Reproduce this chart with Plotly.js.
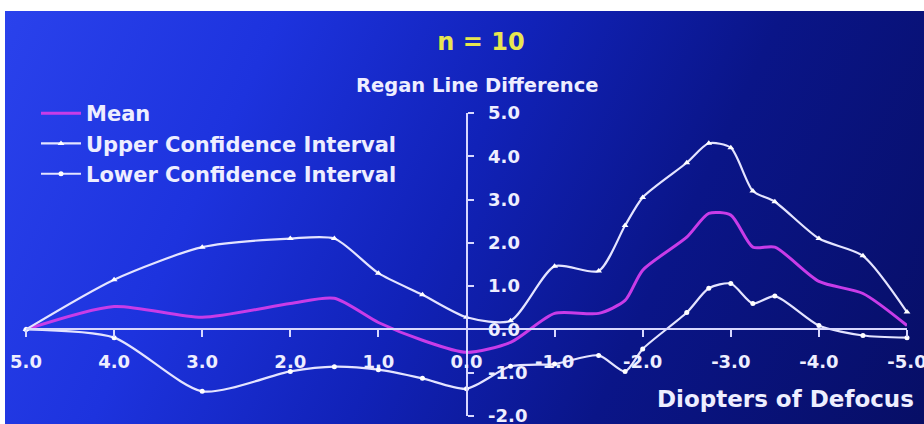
<!DOCTYPE html>
<html>
<head>
<meta charset="utf-8">
<script src="https://cdn.plot.ly/plotly-3.0.1.min.js"></script>
<style>
  html, body { margin:0; padding:0; background:#ffffff; }
  #wrap { position:relative; width:924px; height:424px; background:#ffffff; overflow:hidden; }
  #bg { position:absolute; left:5px; top:11px; width:919px; height:413px;
        background: linear-gradient(115deg, #2a42ec 0%, #1d33de 25%, #1122b8 48%, #0a1588 70%, #070e66 100%); }
  #chart { position:absolute; left:0; top:0; width:924px; height:424px; }
</style>
</head>
<body>
<div id="wrap"><div id="bg"></div><div id="chart"></div></div>
<script>
// Diopters of defocus (x) and series values
const diopters = [5, 4, 3, 2, 1.5, 1, 0.5, 0, -0.5, -1, -1.5, -1.8, -2, -2.5, -2.75, -3, -3.25, -3.5, -4, -4.5, -5];
const meanValues  = [0, 0.53, 0.28, 0.6, 0.72, 0.16, -0.25, -0.53, -0.3, 0.37, 0.37, 0.67, 1.37, 2.13, 2.68, 2.64, 1.9, 1.9, 1.11, 0.83, 0.09];
const upperValues = [0, 1.15, 1.9, 2.1, 2.1, 1.3, 0.8, 0.28, 0.2, 1.46, 1.35, 2.4, 3.05, 3.85, 4.3, 4.2, 3.2, 2.95, 2.1, 1.7, 0.4];
const lowerValues = [0, -0.19, -1.43, -0.97, -0.86, -0.93, -1.13, -1.37, -0.85, -0.8, -0.6, -0.97, -0.45, 0.39, 0.95, 1.06, 0.6, 0.77, 0.09, -0.14, -0.19];

const xTickVals = [5, 4, 3, 2, 1, 0, -1, -2, -3, -4, -5];
const xTickText = ["5.0", "4.0", "3.0", "2.0", "1.0", "0.0", "-1.0", "-2.0", "-3.0", "-4.0", "-5.0"];
const yTickVals = [5, 4, 3, 2, 1, 0, -1, -2];
const yTickText = ["5.0", "4.0", "3.0", "2.0", "1.0", "0.0", "-1.0", "-2.0"];

const seriesNames = ["Mean", "Upper Confidence Interval", "Lower Confidence Interval"];

const FONT = "DejaVu Sans, Arial, sans-serif";
const TXT = "#eeeeff";
const W = 924, H = 424;
const M = {l: 26, r: 17, t: 113, b: 8, autoexpand: false};
const xRange = [5, -5], yRange = [-2, 5];
const px = v => (v - M.l) / (W - M.l - M.r);
const py = v => (H - M.b - v) / (H - M.t - M.b);

const traces = [
  {x: diopters, y: meanValues, name: seriesNames[0], mode: "lines", legendgroup: "a",
   line: {color: "#c83ce8", width: 3, shape: "spline", smoothing: 0.7}, cliponaxis: false},
  {x: diopters, y: upperValues, name: seriesNames[1], mode: "lines+markers", legendgroup: "b",
   line: {color: "#e4e4ff", width: 2.2, shape: "spline", smoothing: 0.7},
   marker: {symbol: "triangle-up", size: 6, color: "#ffffff"}, cliponaxis: false},
  {x: diopters, y: lowerValues, name: seriesNames[2], mode: "lines+markers", legendgroup: "c",
   line: {color: "#e4e4ff", width: 2.2, shape: "spline", smoothing: 0.7},
   marker: {symbol: "circle", size: 5, color: "#ffffff"}, cliponaxis: false}
];

const axisFont = {family: FONT, size: 18, color: TXT, weight: "bold"};

const layout = {
  width: W, height: H,
  margin: M,
  paper_bgcolor: "rgba(0,0,0,0)",
  plot_bgcolor: "rgba(0,0,0,0)",
  showlegend: true,
  title: {text: "n = 10", font: {family: FONT, size: 24, color: "#e8e650", weight: "bold"},
          xref: "container", yref: "container", x: 481 / W, y: 1 - 42 / H, xanchor: "center", yanchor: "middle"},
  legend: {xref: "container", yref: "container", x: 36 / W, y: 1 - 93 / H, xanchor: "left", yanchor: "top",
           bgcolor: "rgba(0,0,0,0)", borderwidth: 0, tracegroupgap: 0, itemwidth: 40,
           font: {family: FONT, size: 21, color: TXT, weight: "bold"}},
  xaxis: {range: xRange, anchor: "free", position: (0 - yRange[0]) / (yRange[1] - yRange[0]),
          showline: true, linecolor: "#d8d8ff", linewidth: 2,
          showgrid: false, zeroline: false, automargin: false, ticklabeloverflow: "allow",
          tickmode: "array", tickvals: xTickVals, ticktext: xTickText,
          ticks: "outside", ticklen: 7, tickwidth: 2, tickcolor: "#d8d8ff",
          ticklabelstandoff: 9, tickfont: axisFont},
  yaxis: {range: yRange, anchor: "free", position: (xRange[0] - 0) / (xRange[0] - xRange[1]), side: "right",
          showline: true, linecolor: "#d8d8ff", linewidth: 2,
          showgrid: false, zeroline: false, automargin: false, ticklabeloverflow: "allow",
          tickmode: "array", tickvals: yTickVals, ticktext: yTickText,
          ticks: "outside", ticklen: 6, tickwidth: 2, tickcolor: "#d8d8ff",
          ticklabelstandoff: 11, tickfont: axisFont},
  annotations: [
    {text: "Diopters of Defocus", xref: "paper", yref: "paper", x: px(785), y: py(399),
     xanchor: "center", yanchor: "middle", showarrow: false,
     font: {family: FONT, size: 23, color: TXT, weight: "bold"}},
    {text: "Regan Line Difference", xref: "paper", yref: "paper", x: px(477), y: py(86),
     xanchor: "center", yanchor: "middle", showarrow: false,
     font: {family: FONT, size: 19.5, color: TXT, weight: "bold"}}
  ]
};

Plotly.newPlot("chart", traces, layout, {displayModeBar: false, staticPlot: true});
</script>
</body>
</html>
